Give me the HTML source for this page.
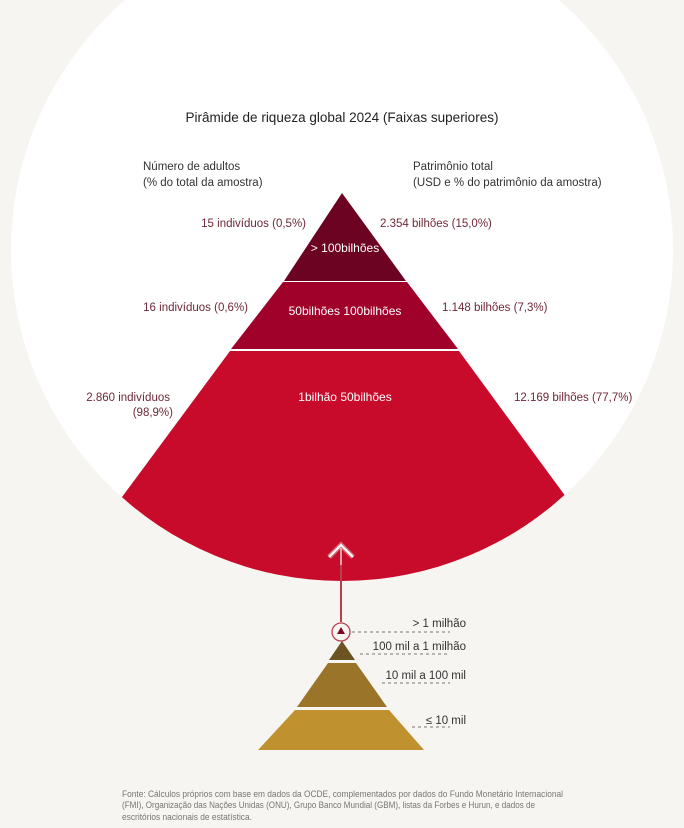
<!DOCTYPE html>
<html><head><meta charset="utf-8"><style>
html,body{margin:0;padding:0;background:#f7f5f1;}
svg{display:block;font-family:"Liberation Sans",sans-serif;}
</style></head><body>
<svg width="684" height="828" viewBox="0 0 684 828" xmlns="http://www.w3.org/2000/svg">
<rect width="684" height="828" fill="#f7f5f1"/>
<defs><clipPath id="c"><circle cx="342" cy="250" r="331"/></clipPath></defs>
<circle cx="342" cy="250" r="331" fill="#ffffff"/>
<g clip-path="url(#c)">
<polygon points="342,193 284,281 406,281" fill="#6c0322"/>
<polygon points="283,282 407,282 458,349 231,349" fill="#a0012a"/>
<polygon points="230,351 459,351 566,497 570,700 114,700 122,497" fill="#c90b2b"/>
</g>
<g font-size="12" fill="#fff" text-anchor="middle">
<text x="345" y="252">&gt; 100bilhões</text>
<text x="345" y="315">50bilhões  100bilhões</text>
<text x="345" y="401">1bilhão  50bilhões</text>
</g>
<text x="342" y="122" font-size="13.5" text-anchor="middle" fill="#222">Pirâmide de riqueza global 2024 (Faixas superiores)</text>
<g font-size="11.5" fill="#333">
<text x="143" y="170">Número de adultos</text>
<text x="143" y="186">(% do total da amostra)</text>
<text x="413" y="170">Patrimônio total</text>
<text x="413" y="186">(USD e % do patrimônio da amostra)</text>
</g>
<g font-size="11.5" fill="#6e2838">
<text x="306" y="227" text-anchor="end">15 indivíduos (0,5%)</text>
<text x="380" y="227">2.354 bilhões (15,0%)</text>
<text x="248" y="311" text-anchor="end">16 indivíduos (0,6%)</text>
<text x="442" y="311">1.148 bilhões (7,3%)</text>
<text x="170" y="401" text-anchor="end">2.860 indivíduos</text>
<text x="173" y="416" text-anchor="end">(98,9%)</text>
<text x="514" y="401">12.169 bilhões (77,7%)</text>
</g>
<g fill="none">
<line x1="341" y1="548" x2="341" y2="622" stroke="#b5434f" stroke-width="2"/>
<polyline points="329,557 341,545 353,557" stroke="#d8707c" stroke-width="5"/>
<polyline points="329,557 341,545 353,557" stroke="#ffffff" stroke-width="2"/>
<line x1="341" y1="548" x2="341" y2="565" stroke="#fff" stroke-width="1"/>
<circle cx="341" cy="632" r="9" stroke="#b5434f" stroke-width="1.3"/>
</g>
<polygon points="341,627 345,634 337,634" fill="#7a0a20"/>
<polygon points="342,641 355,660 329,660" fill="#6b5322"/>
<polygon points="328,663 356,663 387,707 297,707" fill="#9a7428"/>
<polygon points="295,710 389,710 424,750 258,750" fill="#c0922f"/>
<g stroke="#777" stroke-width="1" stroke-dasharray="3,3" fill="none">
<line x1="352" y1="632" x2="450" y2="632"/>
<line x1="360" y1="654" x2="450" y2="654"/>
<line x1="382" y1="683" x2="450" y2="683"/>
<line x1="412" y1="727" x2="450" y2="727"/>
</g>
<g font-size="11.5" fill="#333" text-anchor="end">
<text x="466" y="627">&gt; 1 milhão</text>
<text x="466" y="650">100 mil a 1 milhão</text>
<text x="466" y="679">10 mil a 100 mil</text>
<text x="466" y="724">≤ 10 mil</text>
</g>
<g font-size="9" fill="#777">
<text x="122" y="797" textLength="441" lengthAdjust="spacingAndGlyphs">Fonte: Cálculos próprios com base em dados da OCDE, complementados por dados do Fundo Monetário Internacional</text>
<text x="122" y="808" textLength="413" lengthAdjust="spacingAndGlyphs">(FMI), Organização das Nações Unidas (ONU), Grupo Banco Mundial (GBM), listas da Forbes e Hurun, e dados de</text>
<text x="122" y="820" textLength="130" lengthAdjust="spacingAndGlyphs">escritórios nacionais de estatística.</text>
</g>
</svg>
</body></html>
